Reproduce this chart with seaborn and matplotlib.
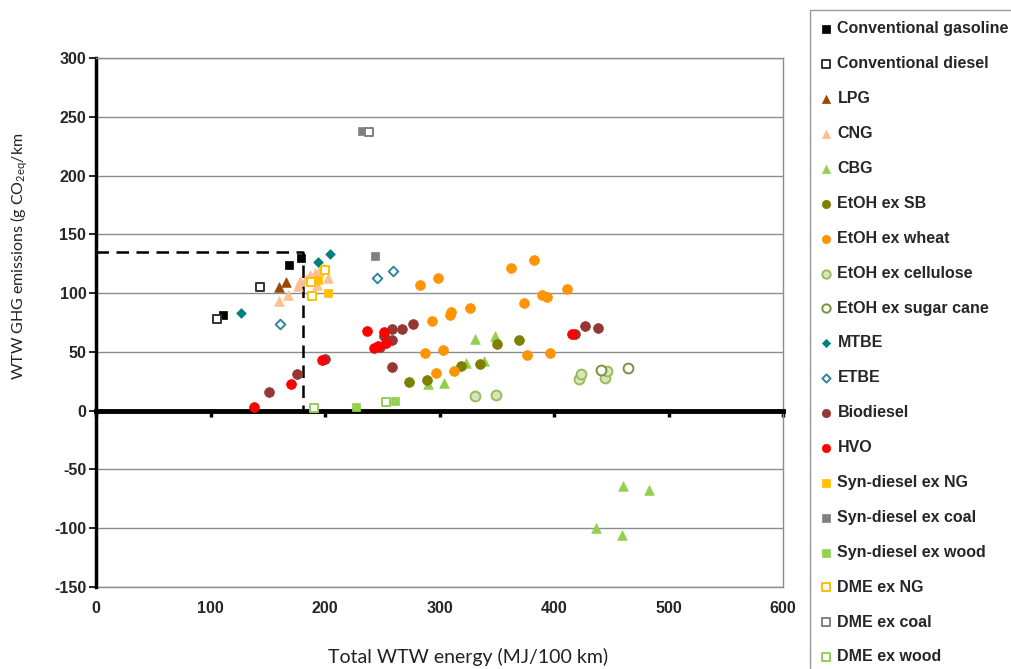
import matplotlib
matplotlib.use("Agg")
import numpy as np
import seaborn as sns
import matplotlib.pyplot as plt

# values
gasoline_x = [110.7, 168.7, 178.9]
gasoline_y = [81.3, 123.6, 130.2]
diesel_x = [105.8, 142.8]
diesel_y = [77.8, 105.1]
lpg_x = [160.2, 166.1]
lpg_y = [105.1, 109.1]
cng_x = [159.7, 168.0, 176.0, 178.0, 183.0, 187.0, 191.0, 195.0, 193.0, 199.0, 203.0]
cng_y = [93.0, 98.0, 106.0, 110.0, 112.0, 115.0, 117.0, 119.0, 107.0, 121.0, 113.0]
cbg_x = [290.0, 304.2, 322.8, 331.3, 338.9, 348.2, 437.0, 459.5, 460.4, 482.8]
cbg_y = [22.7, 23.9, 40.3, 60.8, 42.4, 63.7, -100.0, -105.4, -64.5, -67.6]
etoh_sb_x = [273.6, 288.7, 319.0, 335.0, 350.2, 369.2]
etoh_sb_y = [24.4, 25.8, 37.8, 39.8, 56.5, 59.7]
etoh_wheat_x = [283.0, 298.4, 293.4, 309.4, 310.0, 326.9, 287.6, 303.0, 297.0,
                313.0, 362.8, 382.3, 373.5, 389.9, 394.0, 411.1, 376.5, 396.9]
etoh_wheat_y = [106.8, 112.5, 76.1, 81.5, 84.0, 87.6, 49.2, 52.0, 31.8,
                33.5, 121.6, 128.4, 91.5, 98.3, 96.3, 103.2, 47.1, 49.4]
etoh_cell_x = [331.3, 349.4, 421.6, 423.3, 444.3, 446.4]
etoh_cell_y = [12.2, 13.0, 26.7, 31.5, 28.1, 33.5]
etoh_cane_x = [440.8, 465.0]
etoh_cane_y = [34.6, 36.3]
mtbe_x = [126.7, 193.8, 204.5]
mtbe_y = [83.0, 126.2, 133.0]
etbe_x = [160.8, 245.3, 259.0]
etbe_y = [73.9, 112.5, 118.8]
biodiesel_x = [151.2, 175.7, 199.6, 247.6, 251.7, 258.1, 258.7, 258.1, 267.2,
               277.1, 418.7, 427.2, 438.2]
biodiesel_y = [16.2, 31.0, 44.0, 54.0, 63.9, 69.3, 60.3, 36.9, 69.3,
               73.9, 65.0, 71.9, 70.2]
hvo_x = [137.8, 170.7, 197.6, 236.6, 242.4, 246.0, 251.1, 252.9, 416.1]
hvo_y = [2.8, 22.4, 43.5, 67.6, 52.9, 55.0, 67.3, 57.7, 65.0]
syn_ng_x = [193.8, 202.8]
syn_ng_y = [111.4, 100.0]
syn_coal_x = [232.2, 243.3]
syn_coal_y = [238.2, 131.5]
syn_wood_x = [227.0, 261.1]
syn_wood_y = [2.8, 8.2]
dme_ng_x = [187.9, 200.2, 188.8]
dme_ng_y = [109.1, 119.4, 97.2]
dme_coal_x = [238.6]
dme_coal_y = [237.3]
dme_wood_x = [190.6, 253.5]
dme_wood_y = [2.6, 7.7]

# reference point for conventional gasoline (dashed guide)
ref_x = 181
ref_y = 135

series = [
    ("Conventional gasoline", gasoline_x, gasoline_y, "s", "#000000", "#000000"),
    ("Conventional diesel", diesel_x, diesel_y, "s", "white", "#333333"),
    ("LPG", lpg_x, lpg_y, "^", "#984807", "#984807"),
    ("CNG", cng_x, cng_y, "^", "#FAC090", "#FAC090"),
    ("CBG", cbg_x, cbg_y, "^", "#92D050", "#92D050"),
    ("EtOH ex SB", etoh_sb_x, etoh_sb_y, "o", "#808000", "#808000"),
    ("EtOH ex wheat", etoh_wheat_x, etoh_wheat_y, "o", "#FF9300", "#FF9300"),
    ("EtOH ex cellulose", etoh_cell_x, etoh_cell_y, "o", "#D7E4BD", "#9BBB59"),
    ("EtOH ex sugar cane", etoh_cane_x, etoh_cane_y, "o", "white", "#77933C"),
    ("MTBE", mtbe_x, mtbe_y, "D", "#008080", "#008080"),
    ("ETBE", etbe_x, etbe_y, "D", "white", "#31859C"),
    ("Biodiesel", biodiesel_x, biodiesel_y, "o", "#953735", "#953735"),
    ("HVO", hvo_x, hvo_y, "o", "#FF0000", "#FF0000"),
    ("Syn-diesel ex NG", syn_ng_x, syn_ng_y, "s", "#FFC000", "#FFC000"),
    ("Syn-diesel ex coal", syn_coal_x, syn_coal_y, "s", "#808080", "#808080"),
    ("Syn-diesel ex wood", syn_wood_x, syn_wood_y, "s", "#92D050", "#92D050"),
    ("DME ex NG", dme_ng_x, dme_ng_y, "s", "white", "#FFC000"),
    ("DME ex coal", dme_coal_x, dme_coal_y, "s", "white", "#808080"),
    ("DME ex wood", dme_wood_x, dme_wood_y, "s", "white", "#92D050"),
]
sizes = {"s": 36, "^": 48, "o": 50, "D": 24}

sns.set_theme(style="white")
plt.rcParams['font.family'] = ['Liberation Sans', 'DejaVu Sans']
plt.rcParams['mathtext.default'] = 'regular'
plt.rcParams['axes.unicode_minus'] = False

fig = plt.figure(figsize=(10.11, 6.69), dpi=100)
ax = fig.add_axes([0.095, 0.1226, 0.6795, 0.7907])

for name, xs, ys, m, fc, ec in series:
    lw = 1.4 if fc != ec else 0.5
    sns.scatterplot(x=xs, y=ys, marker=m, s=sizes[m], color=fc, edgecolor=ec,
                    linewidth=lw, label=name, ax=ax, legend=False, zorder=5)

# dashed guide to the gasoline reference
ax.plot([0, ref_x, ref_x], [ref_y, ref_y, 0], color="black", lw=1.8,
        dashes=(5, 3), zorder=4)

ax.set_xlim(0, 600)
ax.set_ylim(-150, 300)
ax.set_yticks(np.arange(-150, 301, 50))
ax.set_xticks(np.arange(0, 601, 100))
ax.yaxis.grid(True, color="#8c8c8c", lw=1)
ax.set_axisbelow(True)

# x axis drawn at zero, labels at the bottom of the plot area
ax.spines['bottom'].set_position(('data', 0))
ax.spines['bottom'].set_linewidth(3.5)
ax.spines['bottom'].set_color("black")
ax.spines['bottom'].set_zorder(3)
ax.tick_params(axis='x', direction='out', length=4, width=2.5, color='black',
               labelbottom=False, bottom=True)
ax.spines['left'].set_linewidth(2.5)
ax.spines['left'].set_color("black")
for s in ['top', 'right']:
    ax.spines[s].set_color("#8c8c8c")
    ax.spines[s].set_linewidth(1)
ax.tick_params(axis='y', direction='out', left=True, length=5, width=1.2,
               color='black', pad=2)
for lab in ax.get_yticklabels():
    lab.set_fontweight('bold')
    lab.set_fontsize(11.5)

secax = ax.secondary_xaxis('bottom')
secax.set_xticks(np.arange(0, 601, 100))
secax.spines['bottom'].set_color("#8c8c8c")
secax.spines['bottom'].set_linewidth(1)
secax.tick_params(length=0, pad=10)
for lab in secax.get_xticklabels():
    lab.set_fontweight('bold')
    lab.set_fontsize(11.5)

ax.set_xlabel("Total WTW energy (MJ/100 km)", family=['Lato', 'DejaVu Sans'],
              fontsize=14, color='#222222')
ax.xaxis.set_label_coords(0.541, -0.115)
ax.set_ylabel("WTW GHG emissions (g CO$_{2eq}$/km", family=['Lato', 'DejaVu Sans'],
              fontsize=11.5, color='#222222')
ax.yaxis.set_label_coords(-0.096, 0.626)

handles, labels = ax.get_legend_handles_labels()
leg = fig.legend(handles, labels, loc='upper left',
                 bbox_to_anchor=(810 / 1011, 1 - 10 / 669), borderaxespad=0,
                 prop={'weight': 'bold', 'size': 11.5}, labelspacing=1.245,
                 handlelength=0.55, handletextpad=0.45, borderpad=0.72,
                 markerscale=0.85, fancybox=False, frameon=True)
leg.get_frame().set_edgecolor("#808080")
leg.get_frame().set_linewidth(1)

fig.savefig("out.png", dpi=100)
